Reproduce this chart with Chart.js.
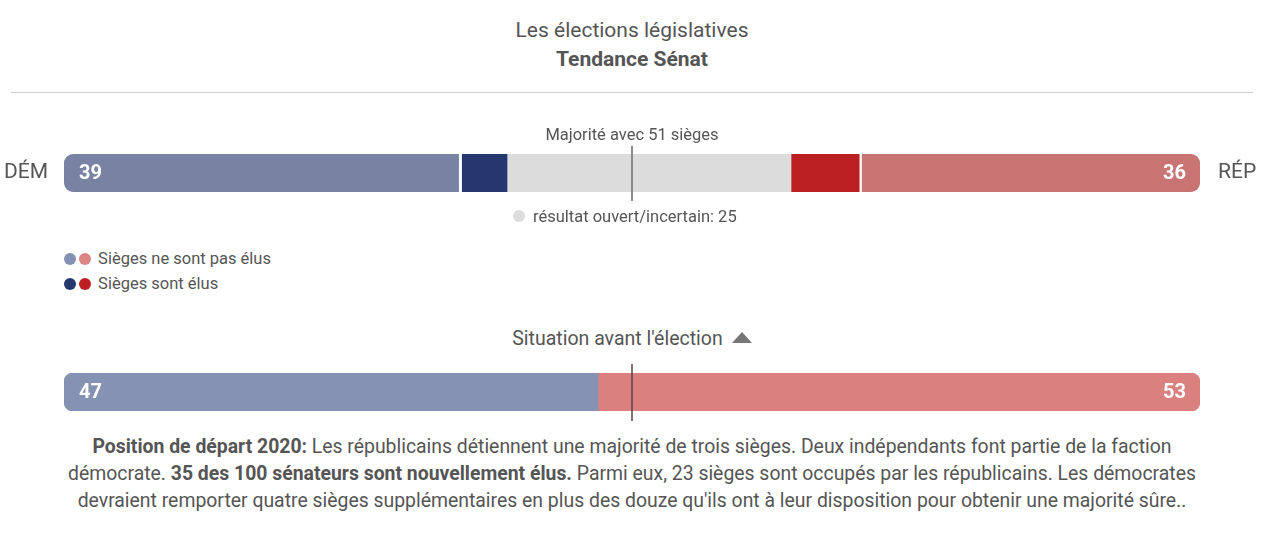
<!DOCTYPE html>
<html lang="fr">
<head>
<meta charset="utf-8">
<title>Tendance Sénat</title>
<script src="https://cdn.jsdelivr.net/npm/chart.js@4/dist/chart.umd.min.js"></script>
<style>
  html, body { margin: 0; padding: 0; background: #fff; }
  body { width: 1264px; height: 536px; position: relative; overflow: hidden;
         font-family: Roboto, "Noto Sans", sans-serif; color: #555; }
  .abs { position: absolute; }
  #titre { left: 0; width: 1264px; top: 16px; text-align: center; font-size: 21px; line-height: 29px; }
  #titre b { font-weight: bold; }
  #trait { left: 11px; width: 1242px; top: 92px; height: 0; border-top: 1px solid #cfcfcf; }
  #topWrap { left: 0; top: 120px; width: 1264px; height: 110px; }
  #bottomWrap { left: 0; top: 355px; width: 1264px; height: 75px; }
  .legende { left: 64px; font-size: 16.5px; line-height: 20px; }
  .point { display: inline-block; width: 12px; height: 12px; border-radius: 50%; vertical-align: -1px; margin-right: 3px; }
  #avant { left: 0; width: 1264px; top: 326px; text-align: center; font-size: 19.5px; line-height: 26px; }
  #avant .tri { display: inline-block; width: 0; height: 0; border-left: 10px solid transparent; border-right: 10px solid transparent;
                border-bottom: 11px solid #777; margin-left: 9px; vertical-align: 2px; }
  #note { left: 57px; width: 1150px; top: 433px; text-align: center; font-size: 19.4px; line-height: 27px; }
</style>
</head>
<body>
<div id="titre" class="abs">Les élections législatives<br><b>Tendance Sénat</b></div>
<div id="trait" class="abs"></div>

<div id="topWrap" class="abs"><canvas id="graphHaut"></canvas></div>

<div class="abs legende" style="top:249px"><span class="point" style="background:#8591b3"></span><span class="point" style="background:#db8585"></span> Sièges ne sont pas élus</div>
<div class="abs legende" style="top:274px"><span class="point" style="background:#27386f"></span><span class="point" style="background:#bc2022"></span> Sièges sont élus</div>

<div id="avant" class="abs">Situation avant l'élection<span class="tri"></span></div>

<div id="bottomWrap" class="abs"><canvas id="graphBas"></canvas></div>

<div id="note" class="abs"><b>Position de départ 2020:</b> Les républicains détiennent une majorité de trois sièges. Deux indépendants font partie de la faction démocrate. <b>35 des 100 sénateurs sont nouvellement élus.</b> Parmi eux, 23 sièges sont occupés par les républicains. Les démocrates devraient remporter quatre sièges supplémentaires en plus des douze qu'ils ont à leur disposition pour obtenir une majorité sûre..</div>

<script>
// --- données ---
const partis = ['DÉM', 'RÉP'];
const siegesNonElus = [35, 30];   // sièges qui ne sont pas en jeu
const siegesElus = [4, 6];        // sièges déjà gagnés
const siegesIncertains = [25];    // résultat ouvert / incertain
const avantElection = [47, 53];   // situation avant l'élection
const totalSieges = 100;
const majorite = 51;
const ligneMajorite = 50;         // position du trait

const couleurs = {
  demClair: '#7883a3', demFonce: '#26376f', gris: '#dcdcdc',
  repFonce: '#bb2022', repClair: '#c87473',
  demAvant: '#8692b4', repAvant: '#da807f'
};
const police = 'Roboto, "Noto Sans", sans-serif';

// plugin : trait de majorité + étiquettes
const pluginDecor = {
  id: 'decor',
  afterDatasetsDraw(chart, args, opts) {
    const ctx = chart.ctx;
    const x = chart.scales.x;
    const area = chart.chartArea;
    const yMid = (area.top + area.bottom) / 2;

    // chiffres dans la barre
    ctx.save();
    ctx.fillStyle = '#fff';
    ctx.font = 'bold 20px ' + police;
    ctx.textBaseline = 'middle';
    ctx.textAlign = 'left';
    ctx.fillText(String(opts.gauche), x.getPixelForValue(0) + 15, yMid + 1);
    ctx.textAlign = 'right';
    ctx.fillText(String(opts.droite), x.getPixelForValue(totalSieges) - 14, yMid + 1);

    // noms des partis
    if (opts.noms) {
      ctx.fillStyle = '#555';
      ctx.font = '21px ' + police;
      ctx.textAlign = 'right';
      ctx.fillText(partis[0], x.getPixelForValue(0) - 16, yMid);
      ctx.textAlign = 'left';
      ctx.fillText(partis[1], x.getPixelForValue(totalSieges) + 18, yMid);
    }

    // trait de majorité
    const px = Math.round(x.getPixelForValue(ligneMajorite));
    ctx.strokeStyle = opts.couleurTrait;
    ctx.lineWidth = 2;
    ctx.beginPath();
    ctx.moveTo(px, area.top - opts.depasseHaut);
    ctx.lineTo(px, area.bottom + opts.depasseBas);
    ctx.stroke();

    if (opts.textes) {
      ctx.fillStyle = '#555';
      ctx.font = '16.5px ' + police;
      ctx.textAlign = 'center';
      ctx.textBaseline = 'alphabetic';
      ctx.fillText('Majorité avec ' + majorite + ' sièges', px, area.top - 14);
      ctx.textAlign = 'left';
      ctx.fillText('résultat ouvert/incertain: ' + siegesIncertains[0], 533, area.bottom + 30);
      ctx.fillStyle = couleurs.gris;
      ctx.beginPath();
      ctx.arc(519, area.bottom + 24, 6, 0, Math.PI * 2);
      ctx.fill();
    }
    ctx.restore();
  }
};

const optionsBase = (padTop, padBottom) => ({
  indexAxis: 'y',
  responsive: true,
  maintainAspectRatio: false,
  animation: false,
  layout: { padding: { left: 64, right: 64, top: padTop, bottom: padBottom } },
  plugins: { legend: { display: false }, tooltip: { enabled: false } },
  scales: {
    x: { stacked: true, min: 0, max: totalSieges, display: false },
    y: { stacked: true, display: false }
  },
  datasets: { bar: { barPercentage: 1, categoryPercentage: 1, borderSkipped: false } }
});

// barre du haut : tendance
new Chart(document.getElementById('graphHaut'), {
  type: 'bar',
  data: {
    labels: ['Tendance'],
    datasets: [
      { data: [siegesNonElus[0]], backgroundColor: couleurs.demClair, borderColor: '#fff',
        borderWidth: { right: 3 }, borderRadius: { topLeft: 9, bottomLeft: 9 } },
      { data: [siegesElus[0]], backgroundColor: couleurs.demFonce, borderWidth: 0 },
      { data: siegesIncertains, backgroundColor: couleurs.gris, borderWidth: 0 },
      { data: [siegesElus[1]], backgroundColor: couleurs.repFonce, borderWidth: 0 },
      { data: [siegesNonElus[1]], backgroundColor: couleurs.repClair, borderColor: '#fff',
        borderWidth: { left: 3 }, borderRadius: { topRight: 9, bottomRight: 9 } }
    ]
  },
  options: Object.assign(optionsBase(34, 38), {
    plugins: {
      legend: { display: false }, tooltip: { enabled: false },
      decor: {
        gauche: siegesNonElus[0] + siegesElus[0],
        droite: siegesNonElus[1] + siegesElus[1],
        noms: true, textes: true, couleurTrait: '#8a8a8a', depasseHaut: 8, depasseBas: 9
      }
    }
  }),
  plugins: [pluginDecor]
});

// barre du bas : avant l'élection
new Chart(document.getElementById('graphBas'), {
  type: 'bar',
  data: {
    labels: ['Avant'],
    datasets: [
      { data: [avantElection[0]], backgroundColor: couleurs.demAvant, borderWidth: 0,
        borderRadius: { topLeft: 9, bottomLeft: 9 } },
      { data: [avantElection[1]], backgroundColor: couleurs.repAvant, borderWidth: 0,
        borderRadius: { topRight: 9, bottomRight: 9 } }
    ]
  },
  options: Object.assign(optionsBase(18, 19), {
    plugins: {
      legend: { display: false }, tooltip: { enabled: false },
      decor: {
        gauche: avantElection[0], droite: avantElection[1],
        noms: false, textes: false, couleurTrait: 'rgba(90,70,70,0.75)', depasseHaut: 9, depasseBas: 10
      }
    }
  }),
  plugins: [pluginDecor]
});
</script>
</body>
</html>
